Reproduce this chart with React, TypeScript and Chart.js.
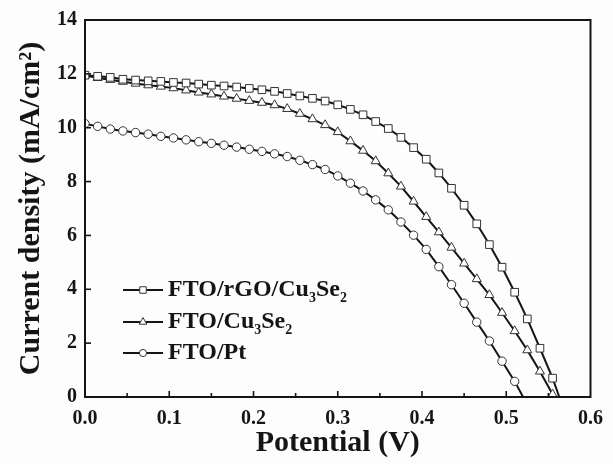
import React, { useEffect, useRef } from 'react';
import { Chart, registerables } from 'chart.js';

Chart.register(...registerables);

const FONT = '"Liberation Serif", "Times New Roman", Times, serif';
const INK = '#151515';

// Potential (V) sampling of the measured points
const voltage = [
  0.0, 0.015, 0.03, 0.045, 0.06, 0.075, 0.09, 0.105, 0.12, 0.135,
  0.15, 0.165, 0.18, 0.195, 0.21, 0.225, 0.24, 0.255, 0.27, 0.285,
  0.3, 0.315, 0.33, 0.345, 0.36, 0.375, 0.39, 0.405, 0.42, 0.435,
  0.45, 0.465, 0.48, 0.495, 0.51, 0.525, 0.54, 0.555,
];

// Current density (mA/cm2)
const rgoCurrent = [
  11.95, 11.91, 11.87, 11.8, 11.77, 11.74, 11.72, 11.68, 11.66, 11.62,
  11.58, 11.55, 11.51, 11.46, 11.41, 11.35, 11.27, 11.18, 11.09, 10.99,
  10.85, 10.68, 10.48, 10.23, 9.97, 9.64, 9.26, 8.83, 8.32, 7.75,
  7.12, 6.43, 5.66, 4.82, 3.89, 2.9, 1.81, 0.7,
];
const rgoEnd = [0.563, 0];

const cuCurrent = [
  11.95, 11.85, 11.78, 11.71, 11.64, 11.58, 11.53, 11.47, 11.39, 11.31,
  11.24, 11.16, 11.08, 11.0, 10.93, 10.84, 10.7, 10.52, 10.32, 10.1,
  9.84, 9.5, 9.15, 8.76, 8.31, 7.82, 7.26, 6.69, 6.12, 5.55,
  4.96, 4.38, 3.79, 3.13, 2.45, 1.74, 0.95, 0.1,
];
const cuEnd = [0.557, 0];

const ptCurrent = [
  10.15, 10.05, 9.95, 9.88, 9.82, 9.76, 9.68, 9.62, 9.55, 9.48,
  9.42, 9.35, 9.28, 9.2, 9.12, 9.03, 8.93, 8.79, 8.63, 8.45,
  8.21, 7.94, 7.65, 7.32, 6.95, 6.5, 6.01, 5.48, 4.84, 4.17,
  3.48, 2.78, 2.08, 1.33, 0.58,
];
const ptEnd = [0.52, 0];

const seriesLabels = ['FTO/rGO/Cu₃Se₂', 'FTO/Cu₃Se₂', 'FTO/Pt'];
// legend text pieces: [text, isSubscript]
const legendParts: [string, boolean][][] = [
  [['FTO/rGO/Cu', false], ['3', true], ['Se', false], ['2', true]],
  [['FTO/Cu', false], ['3', true], ['Se', false], ['2', true]],
  [['FTO/Pt', false]],
];
const pointStyles = ['rect', 'triangle', 'circle'];
const pointSizes = [5.4, 5.2, 4.2];

const xTickValues = [0, 0.1, 0.2, 0.3, 0.4, 0.5, 0.6];
const yTickValues = [0, 2, 4, 6, 8, 10, 12, 14];

function build(current: number[], end: number[]) {
  const pts = current.map((c, i) => ({ x: voltage[i], y: c }));
  pts.push({ x: end[0], y: end[1] });
  return pts;
}

function drawMarker(ctx: CanvasRenderingContext2D, style: string, r: number, x: number, y: number) {
  ctx.beginPath();
  if (style === 'rect') {
    const s = Math.SQRT1_2 * r;
    ctx.rect(x - s, y - s, 2 * s, 2 * s);
  } else if (style === 'triangle') {
    let rad = 0;
    ctx.moveTo(x + Math.sin(rad) * r, y - Math.cos(rad) * r);
    rad += (2 * Math.PI) / 3;
    ctx.lineTo(x + Math.sin(rad) * r, y - Math.cos(rad) * r);
    rad += (2 * Math.PI) / 3;
    ctx.lineTo(x + Math.sin(rad) * r, y - Math.cos(rad) * r);
    ctx.closePath();
  } else {
    ctx.arc(x, y, r, 0, Math.PI * 2);
  }
  ctx.fillStyle = '#ffffff';
  ctx.fill();
  ctx.lineWidth = 1;
  ctx.strokeStyle = '#333';
  ctx.stroke();
}

const framePlugin = {
  id: 'frameTicksLegend',
  beforeDraw(chart: any) {
    const { ctx, width, height } = chart;
    ctx.save();
    ctx.fillStyle = '#fdfdfd';
    ctx.fillRect(0, 0, width, height);
    ctx.restore();
  },
  afterDraw(chart: any) {
    const { ctx, chartArea } = chart;
    const { left, right, top, bottom } = chartArea;
    const xs = chart.scales.x;
    const ys = chart.scales.y;
    ctx.save();
    ctx.strokeStyle = INK;
    ctx.lineWidth = 2;
    ctx.strokeRect(left, top, right - left, bottom - top);

    ctx.lineWidth = 1.6;
    xs.ticks.forEach((t: any) => {
      const px = xs.getPixelForValue(t.value);
      if (px <= left + 1 || px >= right - 1) return;
      const major = Math.abs(t.value * 10 - Math.round(t.value * 10)) < 1e-6;
      const len = major ? 6 : 4;
      ctx.beginPath();
      ctx.moveTo(px, bottom);
      ctx.lineTo(px, bottom - len);
      ctx.stroke();
    });
    ys.ticks.forEach((t: any) => {
      const py = ys.getPixelForValue(t.value);
      if (py <= top + 1 || py >= bottom - 1) return;
      const major = Math.round(t.value) % 2 === 0;
      const len = major ? 6 : 4;
      ctx.beginPath();
      ctx.moveTo(left, py);
      ctx.lineTo(left + len, py);
      ctx.stroke();
    });

    // legend
    const lx0 = left + 38;
    const lx1 = left + 78;
    const rows = [bottom - 107, bottom - 75, bottom - 44];
    rows.forEach((ry, i) => {
      ctx.strokeStyle = INK;
      ctx.lineWidth = 2;
      ctx.beginPath();
      ctx.moveTo(lx0, ry);
      ctx.lineTo(lx1, ry);
      ctx.stroke();
      drawMarker(ctx, pointStyles[i], pointSizes[i] * 0.85, (lx0 + lx1) / 2, ry);
      let tx = lx1 + 5;
      ctx.fillStyle = INK;
      ctx.textBaseline = 'middle';
      ctx.textAlign = 'left';
      legendParts[i].forEach(([txt, sub]) => {
        ctx.font = sub ? `bold 14px ${FONT}` : `bold 24px ${FONT}`;
        ctx.fillText(txt, tx, sub ? ry + 8 : ry);
        tx += ctx.measureText(txt).width;
      });
    });
    ctx.restore();
  },
};

export default function App() {
  const ref = useRef<HTMLCanvasElement | null>(null);

  useEffect(() => {
    if (!ref.current) return;
    const all = [build(rgoCurrent, rgoEnd), build(cuCurrent, cuEnd), build(ptCurrent, ptEnd)];
    const chart = new Chart(ref.current, {
      type: 'line',
      data: {
        datasets: all.map((pts, i) => ({
          label: seriesLabels[i],
          data: pts,
          borderColor: INK,
          borderWidth: 2,
          backgroundColor: '#ffffff',
          pointStyle: pointStyles[i] as any,
          pointRadius: pts.map((_, j) => (j === pts.length - 1 ? 0 : pointSizes[i])),
          pointBorderColor: '#333',
          pointBorderWidth: 1,
          pointBackgroundColor: '#ffffff',
          fill: false,
          tension: 0,
        })),
      },
      options: {
        animation: false,
        responsive: false,
        maintainAspectRatio: false,
        layout: { padding: { left: 0, top: 19, right: 16, bottom: 0 } },
        plugins: { legend: { display: false }, tooltip: { enabled: false } },
        scales: {
          x: {
            type: 'linear',
            min: 0,
            max: 0.6,
            grid: { display: false, drawTicks: false },
            border: { display: false },
            afterFit: (s: any) => { s.height = 67; },
            afterBuildTicks: (s: any) => {
              s.ticks = [0, 0.05, 0.1, 0.15, 0.2, 0.25, 0.3, 0.35, 0.4, 0.45, 0.5, 0.55, 0.6].map((v) => ({ value: v }));
            },
            ticks: {
              padding: 10,
              color: INK,
              font: { family: FONT, size: 20, weight: 'bold' },
              callback: (v: any) => {
                const n = Number(v);
                return xTickValues.some((t) => Math.abs(t - n) < 1e-6) ? n.toFixed(1) : '';
              },
            },
            title: {
              display: true,
              text: 'Potential (V)',
              color: INK,
              font: { family: FONT, size: 30, weight: 'bold' },
              padding: { top: 0, bottom: 3 },
            },
          },
          y: {
            type: 'linear',
            min: 0,
            max: 14,
            grid: { display: false, drawTicks: false },
            border: { display: false },
            afterFit: (s: any) => { s.width = 85; },
            ticks: {
              stepSize: 1,
              padding: 8,
              color: INK,
              font: { family: FONT, size: 20, weight: 'bold' },
              callback: (v: any) => {
                const n = Number(v);
                return yTickValues.includes(n) ? String(n) : '';
              },
            },
            title: {
              display: true,
              text: 'Current density (mA/cm²)',
              color: INK,
              font: { family: FONT, size: 30, weight: 'bold' },
              padding: { top: 13, bottom: 0 },
            },
          },
        },
      },
      plugins: [framePlugin],
    });
    return () => chart.destroy();
  }, []);

  return (
    <div style={{ position: 'fixed', left: 0, top: 0, width: 613, height: 464, background: '#fdfdfd' }}>
      <canvas ref={ref} width={613} height={464} style={{ display: 'block', width: 613, height: 464 }} />
    </div>
  );
}
